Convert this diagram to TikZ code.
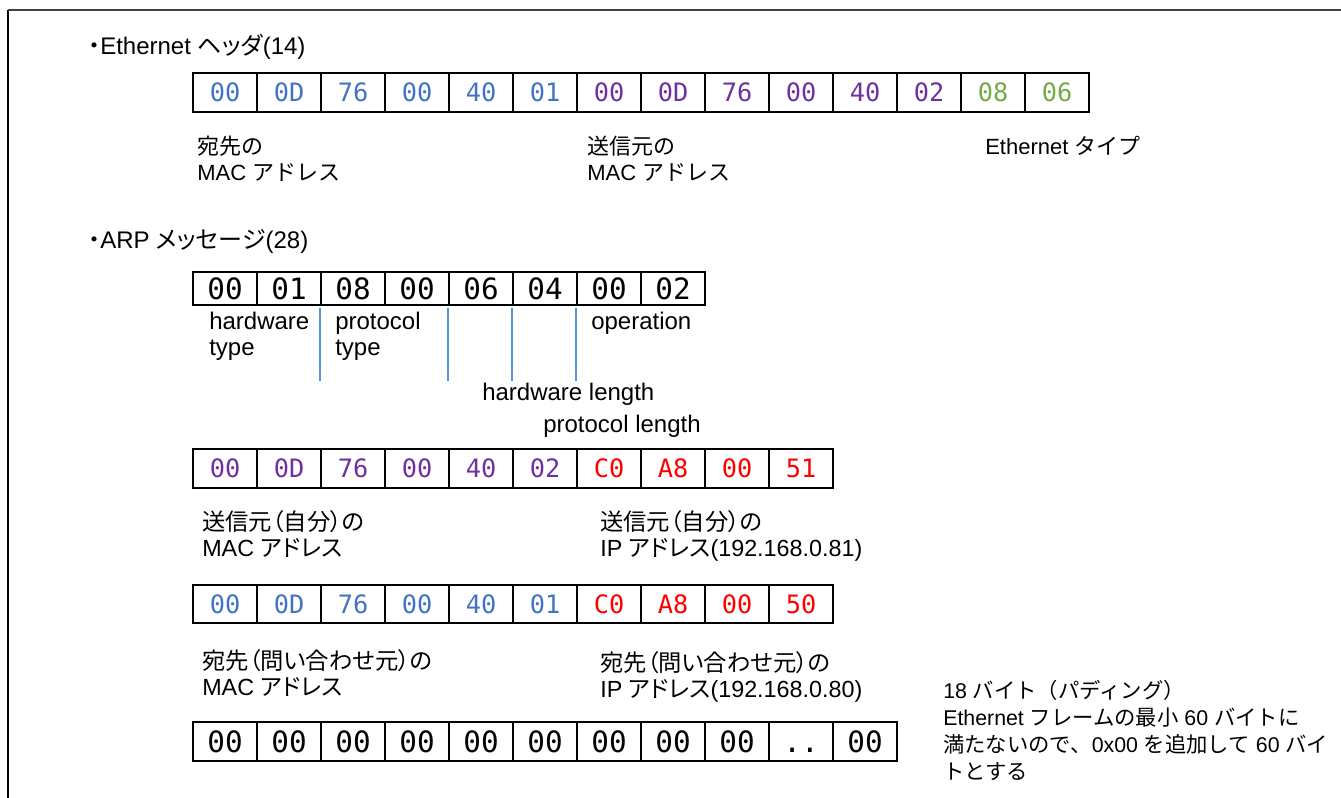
\documentclass[tikz,border=0pt]{standalone}
\usepackage{fontspec}
\setmainfont{Liberation Sans}
\newfontfamily\jp{Noto Sans CJK JP}
\newfontfamily\jpp[CharacterWidth=AlternateProportional]{Noto Sans CJK JP}
\newfontfamily\hexfont{DejaVu Sans Mono}
\usepackage{tikz}
\usetikzlibrary{positioning}
\definecolor{macblue}{RGB}{68, 114, 196}
\definecolor{macpurple}{RGB}{112, 48, 160}
\definecolor{typegreen}{RGB}{112, 173, 71}
\definecolor{ipred}{RGB}{255, 0, 0}
\definecolor{guideblue}{RGB}{80, 150, 220}

\begin{document}
\begin{tikzpicture}[
  x=0.75pt, y=-0.75pt,
  bytecell/.style={rectangle, draw, line width=1.6pt, inner sep=0pt,
              minimum width=48pt, minimum height=29pt,
              text height=13.9pt, text depth=0pt,
              font=\hexfont\fontsize{19}{19}\selectfont},
  zerocell/.style={bytecell, text height=16pt,
              font=\hexfont\fontsize{22}{22}\selectfont},
  lbl/.style={inner sep=0pt, anchor=north west, align=left,
              font=\fontsize{16.5}{19.5}\selectfont},
  field/.style={lbl, font=\fontsize{18}{19.5}\selectfont},
  addr/.style={lbl, font=\fontsize{17.5}{19.5}\selectfont},
  hdr/.style={inner sep=0pt, anchor=west, font=\fontsize{18}{20}\selectfont},
  guide/.style={draw=guideblue, line width=1pt}
]
\useasboundingbox (0,0) rectangle (1341,798);
\draw[line width=1.5pt, black] (8,10) -- (8,800);
\draw[line width=1.5pt, black!75] (7.5,10) -- (1345,10);

% Ethernet header
\node[hdr] (ethtitle) at (88,47) {{\jpp ・}Ethernet {\jpp ヘッダ}(14)};
\foreach \v/\c [count=\i] in {00/macblue, 0D/macblue, 76/macblue, 00/macblue,
    40/macblue, 01/macblue, 00/macpurple, 0D/macpurple, 76/macpurple,
    00/macpurple, 40/macpurple, 02/macpurple, 08/typegreen, 06/typegreen}
  \node[bytecell, text=\c] (e\i) at ({161+64*\i},92.5) {\v};
\node[lbl] (dstmac) at (197,136) {{\jp 宛先の}\\MAC {\jp アドレス}};
\node[lbl] (srcmac) at (587,136) {{\jp 送信元の}\\MAC {\jp アドレス}};
\node[lbl] (ethtype) at (985,136) {Ethernet {\jp タイプ}};

% ARP message
\node[hdr] (arptitle) at (88,241) {{\jpp ・}ARP {\jpp メッセージ}(28)};
\foreach \v [count=\i] in {00, 01, 08, 00, 06, 04, 00, 02}
  \node[zerocell, minimum height=24.75pt] (a\i) at ({161+64*\i},288.5) {\v};
\node[field] (hwtype) at (209,312) {hardware\\type};
\node[field] (prtype) at (335,312) {protocol\\type};
\node[field] (oper) at (591,312) {operation};
\foreach \n in {3,5,6,7}
  \draw[guide] ([yshift=-1.5pt]a\n.south west) -- ++(0,73);
\node[hdr] (hwlen) at (482,394) {hardware length};
\node[hdr] (prlen) at (543,426) {protocol length};

% sender
\foreach \v/\c [count=\i] in {00/macpurple, 0D/macpurple, 76/macpurple,
    00/macpurple, 40/macpurple, 02/macpurple, C0/ipred, A8/ipred, 00/ipred, 51/ipred}
  \node[bytecell, text=\c] (s\i) at ({161+64*\i},468.5) {\v};
\node[addr] (sndmac) at (202,510) {{\jpp 送信元（自分）の}\\MAC {\jpp アドレス}};
\node[addr] (sndip) at (600,510) {{\jpp 送信元（自分）の}\\IP {\jpp アドレス}(192.168.0.81)};

% target
\foreach \v/\c [count=\i] in {00/macblue, 0D/macblue, 76/macblue,
    00/macblue, 40/macblue, 01/macblue, C0/ipred, A8/ipred, 00/ipred, 50/ipred}
  \node[bytecell, text=\c] (t\i) at ({161+64*\i},604) {\v};
\node[addr] (tgtmac) at (202,649) {{\jpp 宛先（問い合わせ元）の}\\MAC {\jpp アドレス}};
\node[addr] (tgtip) at (600,651) {{\jpp 宛先（問い合わせ元）の}\\IP {\jpp アドレス}(192.168.0.80)};

% padding
\foreach \v [count=\i] in {00, 00, 00, 00, 00, 00, 00, 00, 00, .., 00}
  \node[zerocell] (p\i) at ({161+64*\i},741.5) {\v};
\node[lbl, font=\fontsize{16}{20.25}\selectfont] (padnote) at (943,680)
  {18 {\jp バイト（パディング）}\\
   Ethernet {\jp フレームの最小} 60 {\jp バイトに}\\
   {\jp 満たないので、}0x00 {\jp を追加して} 60 {\jp バイ}\\
   {\jp トとする}};

\end{tikzpicture}
\end{document}
